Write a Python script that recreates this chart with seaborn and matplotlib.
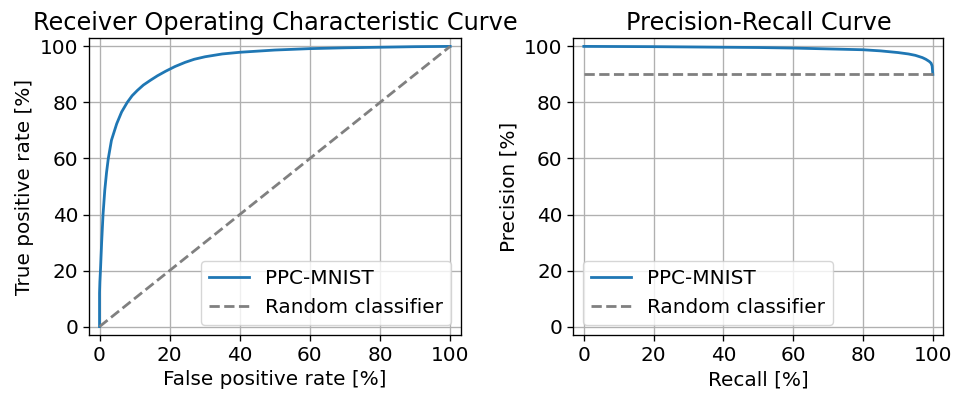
import matplotlib
matplotlib.use("Agg")
import matplotlib.pyplot as plt
import seaborn as sns
import pandas as pd

# ROC curve values (percent)
roc_fpr = [0, 0, 0.1, 0.3, 0.6, 1.0, 1.5, 2.0, 2.5, 3.4, 4.9, 6.3, 7.9, 9.3, 10.8, 12.5, 14.5, 16.5, 18.8,
           21.5, 24.4, 27, 30.1, 35, 40, 50, 60, 70, 80, 90, 100]
roc_tpr = [0, 12, 16, 21, 30, 40, 48.7, 55, 60, 66.5, 72.4, 76.6, 80, 82.4, 84.3, 86.2, 87.9, 89.5, 91.1,
           92.8, 94.3, 95.4, 96.3, 97.3, 97.9, 98.7, 99.2, 99.5, 99.7, 99.9, 100]
roc_random_x = [0, 100]
roc_random_y = [0, 100]

# Precision-recall values (percent)
pr_recall = [0, 10, 20, 30, 40, 50, 60, 70, 80, 85, 90, 93, 95, 97, 98, 99, 99.5, 99.8, 100]
pr_precision = [100, 99.95, 99.9, 99.8, 99.7, 99.6, 99.4, 99.1, 98.8, 98.4, 97.8, 97.3, 96.8, 96.0, 95.4, 94.6, 94.0, 93.0, 90.0]
pr_random_x = [0, 100]
pr_random_y = [90, 90]

ticks = [0, 20, 40, 60, 80, 100]

plt.rcParams.update({
    "font.family": ["DejaVu Sans"],
    "font.size": 14.4,
    "axes.titlesize": 17.28,
})

fig = plt.figure(figsize=(9.54, 3.99), dpi=100)
ax1 = fig.add_axes([0.0933, 0.1604, 0.3896, 0.7444])
ax2 = fig.add_axes([0.6010, 0.1604, 0.3878, 0.7444])

blue = "#1f77b4"
gray = "gray"
lw = 2.0

df_roc = pd.DataFrame({"x": roc_fpr, "y": roc_tpr})
df_roc_r = pd.DataFrame({"x": roc_random_x, "y": roc_random_y})
sns.lineplot(data=df_roc, x="x", y="y", ax=ax1, color=blue, linewidth=lw,
             estimator=None, sort=False, label="PPC-MNIST")
sns.lineplot(data=df_roc_r, x="x", y="y", ax=ax1, color=gray, linewidth=lw,
             linestyle="--", estimator=None, sort=False, label="Random classifier")

df_pr = pd.DataFrame({"x": pr_recall, "y": pr_precision})
df_pr_r = pd.DataFrame({"x": pr_random_x, "y": pr_random_y})
sns.lineplot(data=df_pr, x="x", y="y", ax=ax2, color=blue, linewidth=lw,
             estimator=None, sort=False, label="PPC-MNIST")
sns.lineplot(data=df_pr_r, x="x", y="y", ax=ax2, color=gray, linewidth=lw,
             linestyle="--", estimator=None, sort=False, label="Random classifier")

ax1.set_title("Receiver Operating Characteristic Curve")
ax1.set_xlabel("False positive rate [%]")
ax1.set_ylabel("True positive rate [%]")
ax2.set_title("Precision-Recall Curve")
ax2.set_xlabel("Recall [%]")
ax2.set_ylabel("Precision [%]")

for ax, loc in ((ax1, "lower right"), (ax2, "lower left")):
    ax.set_xlim(-3, 103)
    ax.set_ylim(-3, 103)
    ax.set_xticks(ticks)
    ax.set_yticks(ticks)
    ax.grid(True, color="#b0b0b0", lw=0.96)
    ax.set_axisbelow(True)
    for s in ax.spines.values():
        s.set_linewidth(0.96)
    ax.tick_params(width=0.96, length=4.2)
    ax.legend(loc=loc, fontsize=14.4)

fig.savefig("out.png", dpi=100)
